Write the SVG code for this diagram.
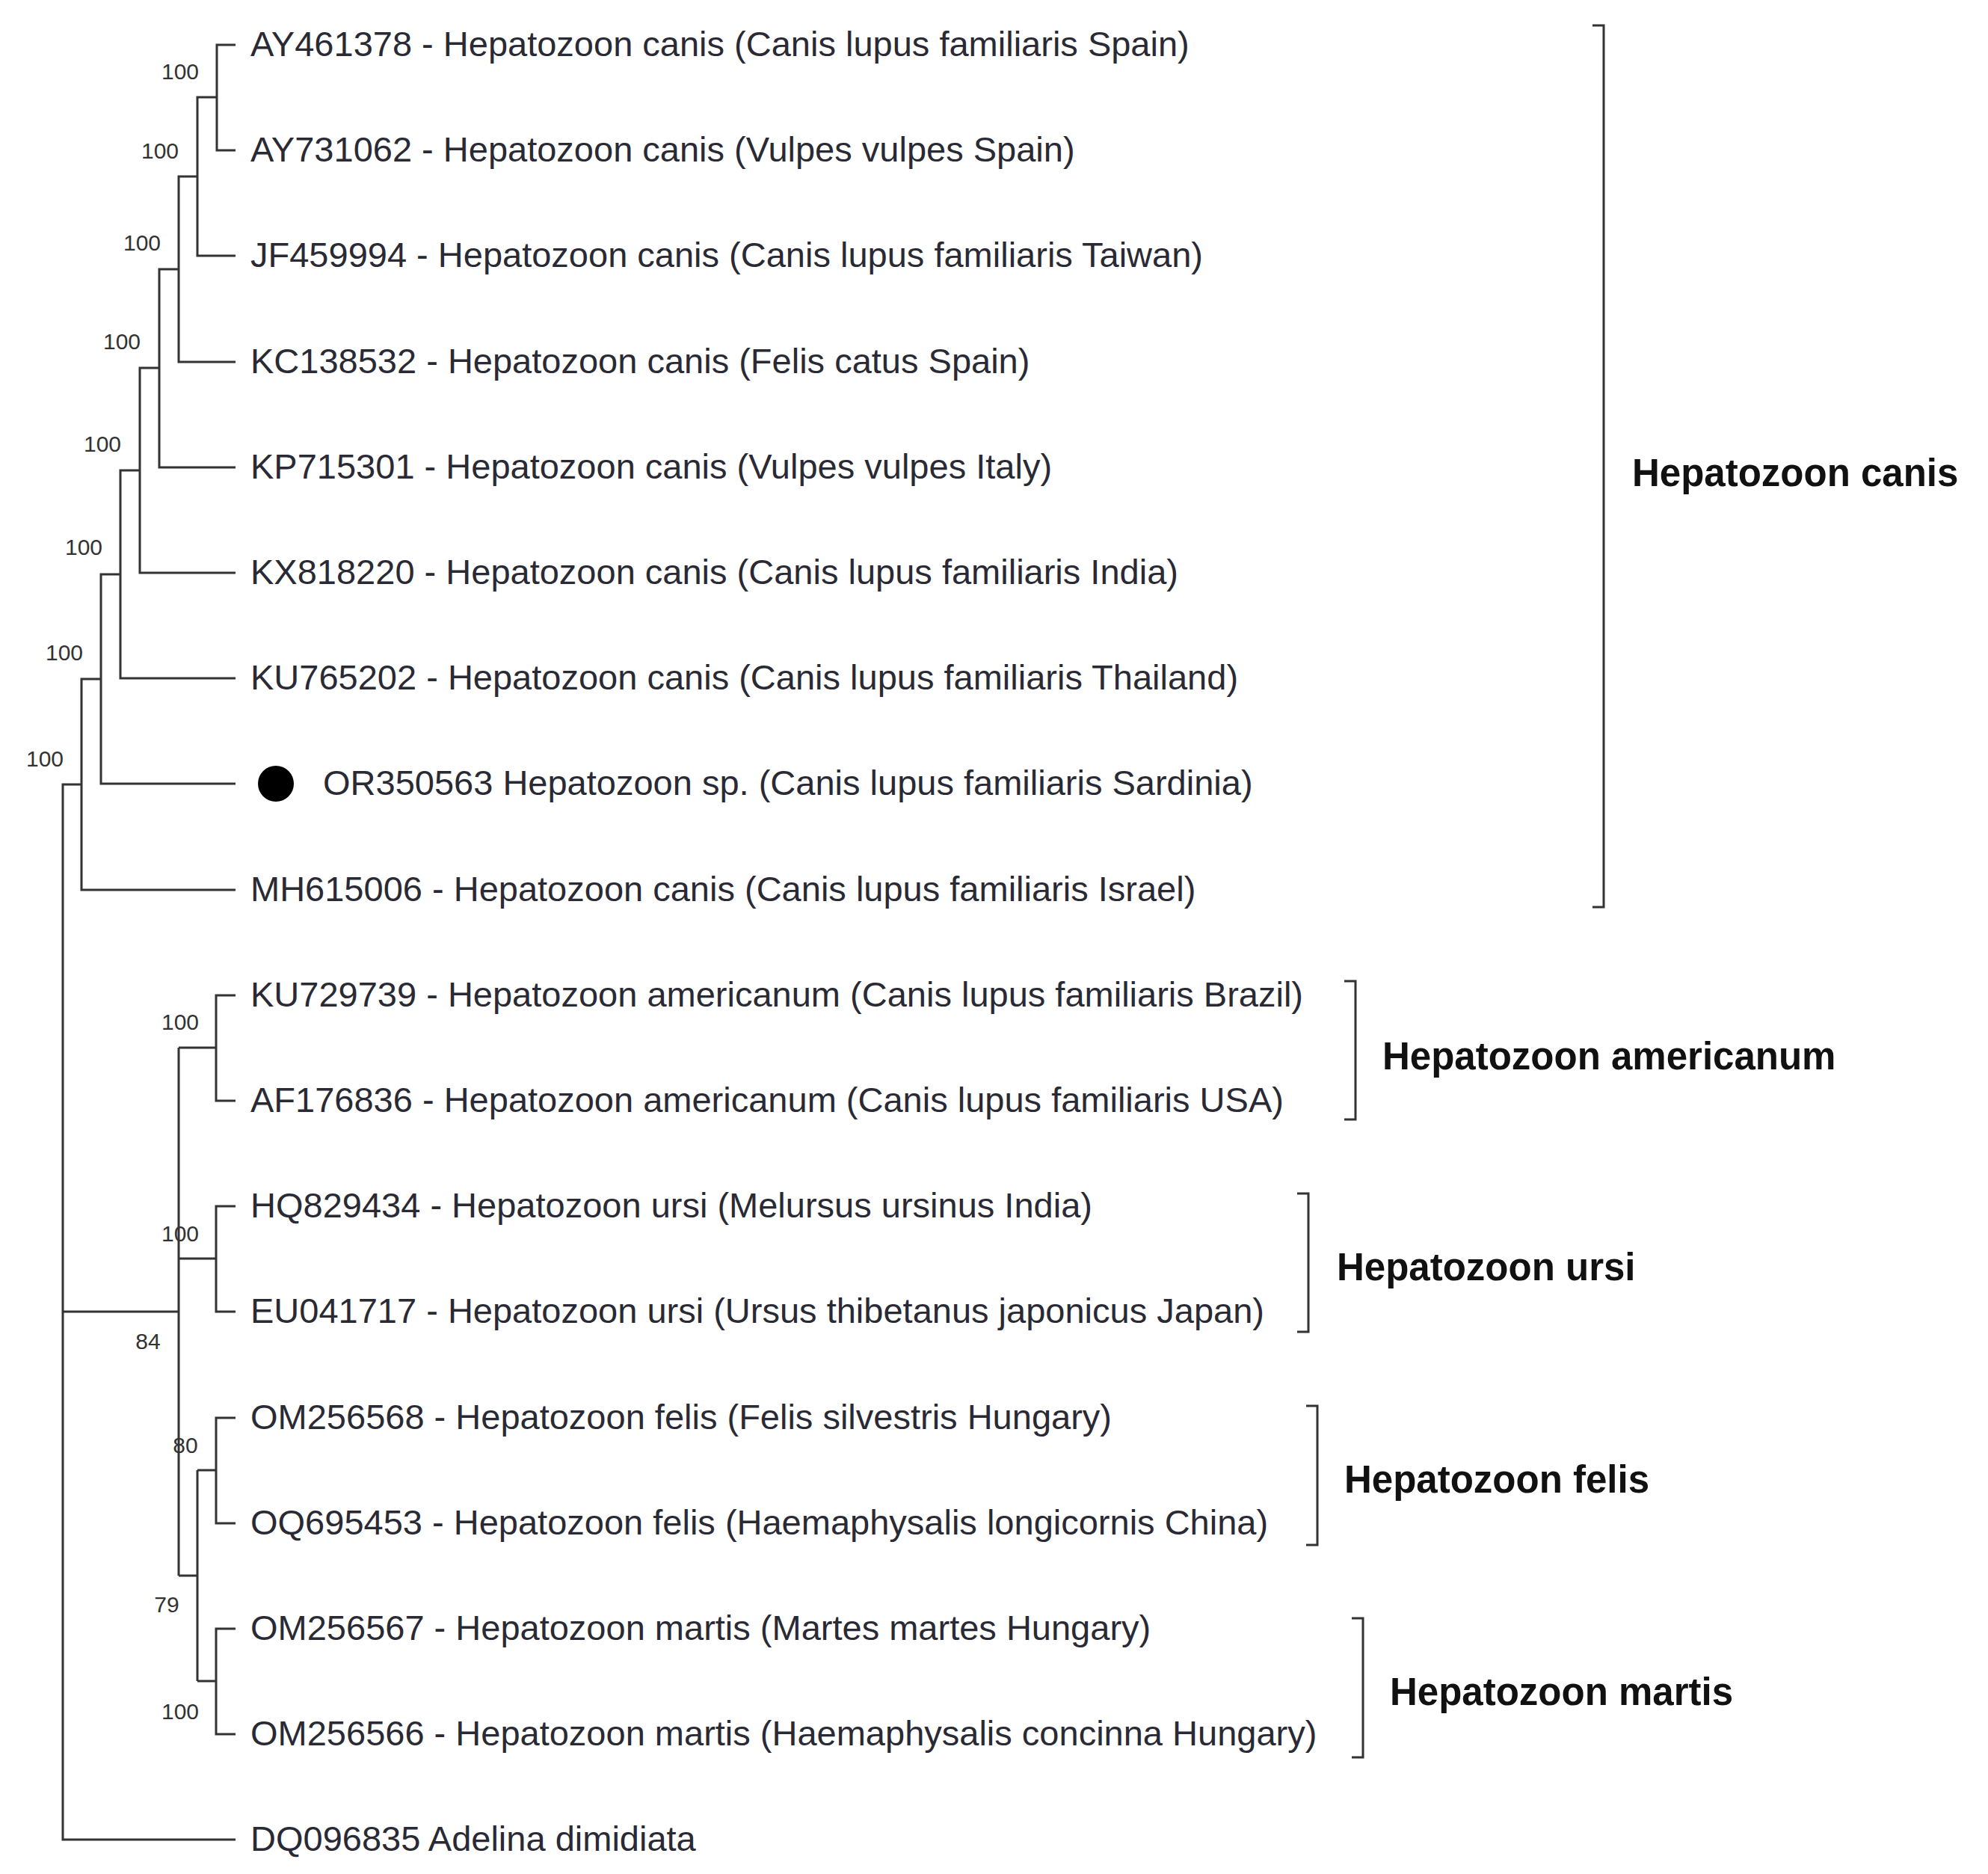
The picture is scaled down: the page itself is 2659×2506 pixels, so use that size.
<svg xmlns="http://www.w3.org/2000/svg" width="2659" height="2506" viewBox="0 0 2659 2506">
<style>
.t{font-family:"Liberation Sans",Arial,sans-serif;font-size:47px;fill:#2a2a35}
.b{font-family:"Liberation Sans",Arial,sans-serif;font-size:30px;fill:#333;text-anchor:middle;dominant-baseline:central}
.c{font-family:"Liberation Sans",Arial,sans-serif;font-size:51px;font-weight:bold;fill:#111;dominant-baseline:central}
.e{fill:none;stroke:#333;stroke-width:3}
</style>
<rect width="2659" height="2506" fill="#fff"/>
<g id="connectors" class="e">
<path d="M315 60H290V201H315M290 130H264V342H315M264 236H239V484H315M239 360H213V625H315M213 492H187V766H315M187 629H161V907H315M161 768H135V1048H315M135 908H109V1190H315M109 1049H84V2460H315"/>
<path d="M84 1754H239M239 1401V2107M315 1331H289V1472H315M289 1401H239M315 1613H289V1754H315M289 1683H239M315 1896H289V2037H315M289 1966H264M315 2178H289V2319H315M289 2248H264M264 1966V2248M264 2107H239"/>
<path d="M2130 34H2145V1213H2130M1798 1312H1813V1497H1798M1735 1596H1750V1781H1735M1747 1880H1762V2066H1747M1808 2164H1823V2350H1808"/>
</g>
<g id="bootstrap">
<text class="b" x="241" y="95">100</text><text class="b" x="214" y="201">100</text><text class="b" x="190" y="324">100</text><text class="b" x="163" y="456">100</text><text class="b" x="137" y="593">100</text><text class="b" x="112" y="731">100</text><text class="b" x="86" y="872">100</text><text class="b" x="60" y="1014">100</text>
<text class="b" x="241" y="1366">100</text><text class="b" x="241" y="1649">100</text><text class="b" x="198" y="1793">84</text><text class="b" x="248" y="1932">80</text><text class="b" x="223" y="2145">79</text><text class="b" x="241" y="2288">100</text>
</g>
<g id="leaves">
<text class="t" x="335" y="75">AY461378 - Hepatozoon canis (Canis lupus familiaris Spain)</text>
<text class="t" x="335" y="216">AY731062 - Hepatozoon canis (Vulpes vulpes Spain)</text>
<text class="t" x="335" y="357">JF459994 - Hepatozoon canis (Canis lupus familiaris Taiwan)</text>
<text class="t" x="335" y="499">KC138532 - Hepatozoon canis (Felis catus Spain)</text>
<text class="t" x="335" y="640">KP715301 - Hepatozoon canis (Vulpes vulpes Italy)</text>
<text class="t" x="335" y="781">KX818220 - Hepatozoon canis (Canis lupus familiaris India)</text>
<text class="t" x="335" y="922">KU765202 - Hepatozoon canis (Canis lupus familiaris Thailand)</text>
<g id="or350563"><circle cx="369" cy="1048" r="24" fill="#000"/><text class="t" x="432" y="1063">OR350563 Hepatozoon sp. (Canis lupus familiaris Sardinia)</text></g>
<text class="t" x="335" y="1205">MH615006 - Hepatozoon canis (Canis lupus familiaris Israel)</text>
<text class="t" x="335" y="1346">KU729739 - Hepatozoon americanum (Canis lupus familiaris Brazil)</text>
<text class="t" x="335" y="1487">AF176836 - Hepatozoon americanum (Canis lupus familiaris USA)</text>
<text class="t" x="335" y="1628">HQ829434 - Hepatozoon ursi (Melursus ursinus India)</text>
<text class="t" x="335" y="1769">EU041717 - Hepatozoon ursi (Ursus thibetanus japonicus Japan)</text>
<text class="t" x="335" y="1911">OM256568 - Hepatozoon felis (Felis silvestris Hungary)</text>
<text class="t" x="335" y="2052">OQ695453 - Hepatozoon felis (Haemaphysalis longicornis China)</text>
<text class="t" x="335" y="2193">OM256567 - Hepatozoon martis (Martes martes Hungary)</text>
<text class="t" x="335" y="2334">OM256566 - Hepatozoon martis (Haemaphysalis concinna Hungary)</text>
<text class="t" x="335" y="2475">DQ096835 Adelina dimidiata</text>
</g>
<g id="clades">
<text class="c" x="2183" y="632">Hepatozoon canis</text>
<text class="c" x="1849" y="1412">Hepatozoon americanum</text>
<text class="c" x="1788" y="1694">Hepatozoon ursi</text>
<text class="c" x="1798" y="1978">Hepatozoon felis</text>
<text class="c" x="1859" y="2262">Hepatozoon martis</text>
</g>
</svg>
